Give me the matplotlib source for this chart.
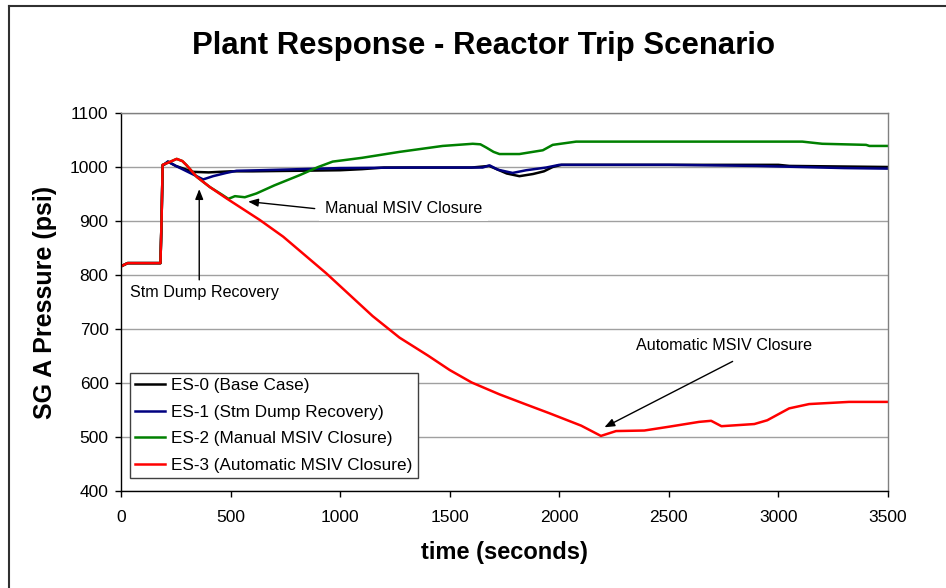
import matplotlib
matplotlib.use("Agg")
import matplotlib.pyplot as plt
from matplotlib.lines import Line2D

plt.rcParams["font.family"] = ["Liberation Sans", "DejaVu Sans"]

# ES-0 (Base Case)
t_es0 = [0, 10, 30, 180, 185, 190, 200, 214, 250, 300, 330, 400, 500, 600, 800,
         1000, 1100, 1200, 1600, 1680, 1720, 1760, 1818, 1880, 1930, 1970, 2010,
         2100, 2500, 3000, 3050, 3500]
p_es0 = [816, 818, 822, 822, 900, 1003, 1005, 1010, 1002, 995, 991, 990, 992, 992, 993,
         994, 996, 999, 999, 1002, 995, 988, 983, 987, 992, 1000, 1004,
         1004, 1004, 1004, 1002, 1000]

# ES-1 (Stm Dump Recovery)
t_es1 = [0, 10, 30, 180, 185, 190, 214, 250, 300, 340, 375, 420, 480, 527, 633, 816,
         1000, 1317, 1650, 1682, 1720, 1787, 1849, 1940, 2000, 2500, 2900, 3300, 3500]
p_es1 = [816, 818, 822, 822, 900, 1003, 1010, 1002, 992, 984, 977, 983, 989, 993, 994, 996,
         998, 999, 999, 1003, 995, 989, 994, 999, 1004, 1004, 1002, 998, 997]

# ES-2 (Manual MSIV Closure)
t_es2 = [0, 10, 30, 180, 185, 190, 215, 254, 280, 300, 345, 405, 460, 490, 520, 565, 618,
         700, 816, 900, 966, 1100, 1271, 1468, 1605, 1640, 1667, 1700, 1727, 1818,
         1925, 1970, 2077, 2500, 3109, 3200, 3400, 3415, 3500]
p_es2 = [816, 818, 822, 822, 900, 1004, 1008, 1015, 1011, 1003, 982, 963, 949, 941, 946, 944, 951,
         966, 985, 1000, 1010, 1017, 1028, 1039, 1043, 1042, 1036, 1028, 1024, 1024,
         1031, 1041, 1047, 1047, 1047, 1043, 1041, 1039, 1039]

# ES-3 (Automatic MSIV Closure)
t_es3 = [0, 10, 30, 180, 185, 190, 215, 254, 280, 300, 345, 405, 481, 633, 740, 937,
         1148, 1271, 1400, 1500, 1600, 1727, 1850, 1955, 2100, 2190, 2259, 2388,
         2500, 2638, 2693, 2740, 2890, 2949, 3049, 3140, 3322, 3500]
p_es3 = [816, 818, 822, 822, 900, 1004, 1008, 1015, 1011, 1003, 982, 963, 942, 902, 871, 803,
         724, 684, 651, 624, 601, 579, 560, 544, 521, 502, 511, 512,
         519, 528, 530, 520, 524, 531, 553, 561, 565, 565]

labels = ["ES-0 (Base Case)", "ES-1 (Stm Dump Recovery)",
          "ES-2 (Manual MSIV Closure)", "ES-3 (Automatic MSIV Closure)"]
colors = ["#000000", "#000080", "#008000", "#ff0000"]

fig = plt.figure(figsize=(9.46, 5.88), dpi=100)
ax = fig.add_axes([121 / 946, 1 - 491 / 588, 767 / 946, 378 / 588])

for t, p, lab, c in zip([t_es0, t_es1, t_es2, t_es3], [p_es0, p_es1, p_es2, p_es3], labels, colors):
    ax.plot(t, p, color=c, lw=1.8, label=lab, solid_joinstyle="round")

ax.set_xlim(0, 3500)
ax.set_ylim(400, 1100)
ax.set_xticks(range(0, 3501, 500))
ax.set_yticks(range(400, 1101, 100))
ax.grid(axis="y", color="#a0a0a0", lw=1)
ax.set_axisbelow(True)

for s in ["top", "right"]:
    ax.spines[s].set_color("#808080")
    ax.spines[s].set_linewidth(1)
for s in ["left", "bottom"]:
    ax.spines[s].set_color("black")
    ax.spines[s].set_linewidth(1)

ax.tick_params(axis="y", direction="out", length=4, width=1, pad=5, labelsize=12.5)
ax.tick_params(axis="x", direction="out", length=4.5, width=1, pad=9, labelsize=12.5)

ax.set_xlabel("time (seconds)", fontsize=17, fontweight="bold", va="center")
ax.xaxis.set_label_coords(0.5, -62 / 378)
ax.set_ylabel("SG A Pressure (psi)", fontsize=18, fontweight="bold", va="center")
ax.yaxis.set_label_coords(-76 / 767, 0.5)

fig.text(483 / 946, 1 - 46 / 588, "Plant Response - Reactor Trip Scenario",
         fontsize=22.4, fontweight="bold", ha="center", va="center")

leg = ax.legend(loc="lower left", bbox_to_anchor=(9 / 767, 13 / 378), borderaxespad=0,
                fontsize=12.3, fancybox=False, framealpha=1, edgecolor="#404040",
                handlelength=1.75, handletextpad=0.35, labelspacing=0.68,
                borderpad=0.3)
leg.get_frame().set_linewidth(1)

arrow = dict(arrowstyle="-|>,head_length=0.5,head_width=0.2", color="black",
             lw=1, mutation_scale=12, shrinkA=0, shrinkB=0)

# annotations
ax.annotate("", xy=(357, 959), xytext=(357, 791), arrowprops=arrow)
ax.text(383, 767, "Stm Dump Recovery", fontsize=11.6, ha="center", va="center")

ax.annotate("", xy=(580, 936), xytext=(884, 923), arrowprops=arrow)
ax.text(930, 923.5, "Manual MSIV Closure", fontsize=11.6, ha="left", va="center",
        bbox=dict(boxstyle="square,pad=0.35", fc="white", ec="none"))

ax.annotate("", xy=(2206, 518), xytext=(2791, 640), arrowprops=arrow)
ax.text(2753, 670, "Automatic MSIV Closure", fontsize=11.6, ha="center", va="center")

# chart border
fig.add_artist(Line2D([8.5 / 946, 8.5 / 946], [0, 1 - 6 / 588], transform=fig.transFigure,
                      color="#303030", lw=1.5))
fig.add_artist(Line2D([8.5 / 946, 1], [1 - 6 / 588, 1 - 6 / 588], transform=fig.transFigure,
                      color="#303030", lw=1.5))

fig.savefig("out.png", dpi=100)
